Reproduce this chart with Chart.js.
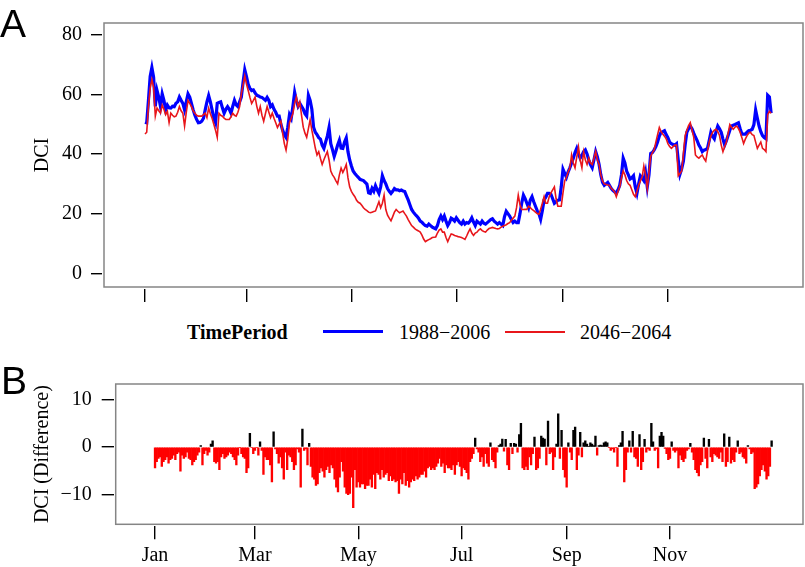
<!DOCTYPE html>
<html><head><meta charset="utf-8">
<script src="https://cdn.jsdelivr.net/npm/chart.js@4.4.1/dist/chart.umd.min.js"></script>
<style>
body{margin:0;background:#fff;width:805px;height:567px;overflow:hidden;position:relative;font-family:"Liberation Serif","Times New Roman",serif;}
canvas{position:absolute;left:0}
.panel{position:absolute;font-family:"Liberation Sans",Arial,sans-serif;font-size:39px;line-height:39px;color:#000}
.lg{position:absolute;top:322px;font-size:20px;line-height:20px;white-space:nowrap;color:#000}
.sw{position:absolute;}
</style></head><body>
<canvas id="ca" width="805" height="320" style="top:0"></canvas>
<canvas id="cb" width="805" height="207" style="top:360px"></canvas>
<div class="panel" style="left:0;top:4px">A</div>
<div class="panel" style="left:1px;top:361px">B</div>
<div class="lg" id="lgTitle" style="left:187px;font-weight:bold"></div>
<div class="sw" style="left:323px;top:330px;width:60px;height:3px;background:#0000ff"></div>
<div class="lg" id="lg1" style="left:399px"></div>
<div class="sw" style="left:505px;top:331px;width:60px;height:2px;background:#e8161b"></div>
<div class="lg" id="lg2" style="left:580px"></div>
<script>
const monthDays = [0, 59, 120, 181, 243, 304];
const monthLabels = ['Jan', 'Mar', 'May', 'Jul', 'Sep', 'Nov'];
const yTicksA = [0, 20, 40, 60, 80];
const yTicksB = [-10, 0, 10];
const legendTitle = 'TimePeriod';
const seriesNames = ['1988\u22122006', '2046\u22122064'];

const dci1988 = [
50.7,50.5,58,66,69,65.8,56,61.3,59,56,
60.2,58,54.8,56.4,55.5,55.4,56,55.9,57,57.5,
59.1,58,57,54.8,57.5,60.2,59.1,57,54.8,53,
51.6,50.5,50.6,51,52,54.8,57.5,59.6,57.5,54.8,
52,50.5,57,57.3,57.5,55.5,53.7,55,55.9,55,
53.7,56,58,56.5,55.9,57.5,59.1,64,68.3,66,
63.4,62,61.3,61.5,60.5,59.7,59.5,59.1,59,58.5,
58,59,58,55.9,56.5,55,54,52.7,52.7,50,
48,46.5,45.6,49,53.2,52,56,60.7,58,56,
57,56,55,53.5,52.7,59.7,58,55,49,47.3,
46.5,45.5,45,43,41.9,44,46,48.9,43.5,41.5,
39.2,41,43,44.6,42,41.9,44,45.4,40.8,38,
36,34.3,33.5,32.8,32.2,31.5,31.3,31.1,30.5,29.9,
27,26.8,28.5,27.5,29.4,28,26.8,29,32.7,31.1,
30,28.4,27.5,26.8,27.5,28.4,28,28,27.7,27.9,
27.6,27.4,26,24.6,23,21.4,20.5,19.8,19.2,18.5,
17.5,17.1,16.5,16,15.8,16.5,16,15.5,15.2,14.9,
16,18,19.2,18,19.2,17.5,16,17,18.5,18.1,
17.5,18.6,17.8,17,16.5,17.5,16.5,17,16.8,17.5,
18.6,17.2,16,17.5,17,16.5,17.5,16.8,16.5,17,
17.5,18,18.3,17.5,17,16.5,17,16.5,16,19,
20.8,20,19.2,18,17,17.5,17,17,20,23.5,
26.2,25,23.5,22,24.6,25.7,24,22.5,21,20,
18.1,21,24.6,25.5,26.8,26.8,26.5,25,23.5,24,
24.5,24.6,29,34.9,33.5,32.2,34,35.4,37,38.6,
40.5,41.9,40,38.6,39.5,40.8,41.4,40,38,36.5,
35.4,38,40.8,39,36.5,33,30.5,29.5,30,30.5,
29.5,28.5,27.8,27.3,26.8,28,29.5,33,38.6,37,
34.3,33,31.6,32,32.7,29,26.8,30,32.7,32,
31.1,33.8,29,33,40.2,40.5,41.4,42.5,44,46,
47.3,47.5,47.8,46.5,45.5,44,43.5,43.2,43,43.5,
38,33.2,35,37.6,43,47.3,48.5,49.4,48.5,47,
45.7,44.5,43,42,40.8,41.3,41.5,41.9,44.5,47.3,
46,45.1,47.5,49.4,48.5,47.3,45,43,44.5,46.2,
48,49.4,49.7,49.9,50.2,50.5,48.5,46.7,46.7,46.7,
47.3,47.8,48,48.3,49.9,54.8,52,49.4,47.5,46.2,
45.5,45.1,59.7,59.1,53.7];

const dci2046 = [
46.7,47.3,55.9,62,65,62.4,52.7,55.4,54.5,53.7,
56.4,55,53.2,54.3,50.5,53.7,53,52.5,52.7,54,
55.9,54.5,53.7,49.4,54,58,57,55.9,54.5,53.7,
53,52.7,52.7,52.7,53.2,53.7,52.2,55.4,53.5,52,
50,48,45.6,53.7,53,52.7,52,51.6,51.6,51.6,
52.5,53.7,53,52.7,54,55.9,60.2,63,66.2,63.5,
61.3,59,57,58,59.1,56,53.7,55.9,53,51,
53.5,55.9,54,52.2,53.7,52,50.5,48.9,50,51,
47,43.5,41.3,45,50.5,52,53.7,57,59.1,55.9,
57.5,53,49,47,45.6,48.5,51.5,48,45.1,42,
39.7,40.8,38.5,36.5,38.1,39.5,40.8,38,34.3,33,
32.2,31,30,33,35.3,33.8,35,36.5,32,28.9,
27.5,26.5,25.7,24.5,23.8,23.5,22.8,22,21.4,21,
20.5,20.3,20.5,20.7,20.9,22.5,24,22,23.5,26.2,
21.4,19.5,18.5,17.6,19,20.5,21.4,20.8,20.3,20.6,
20.9,20,19.2,18,17,16,15.5,14.9,14.5,14.2,
13.8,12.8,11.5,10.6,11,11.3,11.6,12,12.1,12.2,
13.5,14.5,14.9,13.8,13.8,12,10.6,12,13.2,13,
12.7,12.5,12.3,12.2,12,11.7,11.4,12.5,13.8,14.9,
13.5,12.7,13.5,13.8,14.5,14.9,14.3,14,13.8,14.5,
15,15.2,15.4,15.2,15,14.9,15,15.5,15.8,16,
16.3,16.7,17,17.8,18.5,19.2,22,26.2,23,21.4,
21.4,21.5,21.4,22.5,22,21.4,21,20.5,20,19.8,
21.5,23.5,25.7,23.5,23.5,25.7,27,28,29,25,
22.5,22.5,22.5,27,31,32.2,34,35.4,39.7,37,
35.4,39,42.4,38,35.4,40.8,38,36.5,38.6,37,
36.5,38.5,40.8,38,36.5,33,31,30,29.8,29.6,
29.5,28.5,28,27.3,25.7,27.5,29,32,34.3,33,
31.1,30,29.5,28,26.5,25.7,27.5,29.5,31,32.2,
36,33,28.4,34,39.2,40.5,41.4,44,46.5,48.9,
47.5,46.7,46,45.1,43.5,42.5,41.9,42.5,43,43,
32.7,33.5,34.3,40,46.2,48,49.5,50.5,48,45.7,
39.7,39,38.6,39.2,39.7,38.5,37.6,41,44,46,
47.3,48,48.3,47.5,46.2,43,40.8,42.5,44,47,
49.9,49,48.3,49,49.4,48.5,47.3,45.5,43.5,45,
46.2,47,47.3,46.5,46.2,44,41.9,43,44,41.9,
41.5,40.8,53.2,54.3,53.7];

const dciDiff = [
-4.4,-3.1,-2.4,-2.1,-4.1,-3.1,-2.7,-2.1,-3.4,-2.7,-2.4,-1.7,-2.7,-1.4,-1.1,-5.1,-1.7,-2.4,-2.1,-1.1,-2.4,-2.7,-3.8,-3.1,-2.7,-1.7,-1.1,0.3,-3.8,-1.4,-0.7,
-1.7,-1.1,0.6,1.3,-3.1,-3.4,-3.1,-4.8,-2.1,-1.4,-2.4,-2.1,-1.7,-1.1,-1.4,-2.1,-2.7,-3.8,-1.7,-0.1,-1.4,-2.1,-2.4,-5.4,-4.4,2.9,-0.1,-1.4,-0.7,-0.1,-1.7,1.1,-0.7,-5.8,-2.1,-2.7,-2.7,-3.8,-7.4,3.2,-0.4,-1.4,-3.4,-2.1,-4.4,-6.8,-1.1,-4.8,-1.7,-2.1,
-3.1,-4.8,-3.8,-0.4,-1.1,-8.5,3.8,-0.7,-0.4,-3.8,0.8,-4.1,-6.4,-6.8,-8.1,-7.8,-5.4,-4.4,-5.1,-6.4,-4.8,-4.1,-5.4,-3.8,-4.4,-6.8,-8.5,-9.5,-6.4,-3.1,-5.1,-8.5,-9.8,-10.1,-9.8,-6.4,-12.8,-4.8,-8.5,-7.4,-8.5,-7.8,-7.8,-8.8,-8.1,-8.1,-6.8,-8.5,-5.8,-8.8,-5.4,-5.8,-6.8,-4.8,-6.4,-5.8,-5.4,-7.1,-6.1,-7.1,-6.8,-7.4,-7.1,-9.8,-6.8,-7.8,
-5.4,-8.1,-7.1,-8.5,-7.4,-6.8,-7.1,-6.1,-6.8,-6.4,-5.8,-5.8,-5.1,-6.4,-4.4,-4.1,-4.8,-4.4,-4.8,-4.1,-3.4,-2.4,-4.1,-3.4,-5.4,-3.8,-4.4,-4.4,-4.8,-3.8,-5.8,-3.8,-3.1,-4.1,-6.1,-4.4,-4.8,
-5.4,-6.8,-3.1,-2.4,-1.4,1.9,-0.4,-1.1,-3.1,-2.1,-4.1,-1.4,-3.4,-4.1,0.9,-2.7,-3.1,-4.4,-1.1,0.3,0.6,1.7,-0.9,1.6,-3.8,-4.8,0.8,-1.4,0.8,0.6,-1.1,2.6,5.0,-4.4,-4.8,-4.1,-4.8,-2.1,-3.8,-1.4,2.1,-4.8,-4.4,-2.4,2.3,1.9,1.7,-3.8,5.5,-1.4,-1.1,-4.8,-2.1,0.6,7.0,-2.4,3.5,-4.8,-6.4,-8.5,0.9,-1.1,-2.7,3.5,4.2,-4.8,-1.7,3.1,-2.1,
0.9,1.3,0.6,0.1,0.9,0.6,0.3,2.3,-1.7,0.3,0.4,0.3,0.9,1.1,0.9,-0.1,-0.7,-0.4,-1.1,-0.1,-4.1,0.3,0.9,3.3,-7.4,-4.8,-1.1,1.3,-1.1,3.3,-2.1,-2.4,-4.1,2.6,-4.8,-3.1,1.6,-1.1,-0.4,-0.7,5.0,1.1,-0.7,-0.4,-4.4,2.3,3.1,2.3,-0.3,-1.4,-2.7,-2.4,
1.1,-0.7,-1.1,-0.7,-4.4,-1.7,-2.7,-3.1,-2.4,-0.7,-0.4,0.8,-1.1,-2.7,-4.8,-5.4,-6.1,-3.8,-3.1,1.9,-2.4,-4.4,1.6,-2.1,-3.1,-1.4,-1.7,-2.1,-2.4,-1.1,-3.1,2.8,-4.1,-3.1,2.1,-3.4,-2.7,-3.1,-1.1,1.3,-1.4,-1.1,-2.1,-2.4,-3.4,0.3,-0.4,-1.4,-1.1,-8.8,-8.5,-7.8,-6.1,-4.8,-3.8,-5.1,-6.8,-6.1,-4.1,1.3];

document.getElementById('lgTitle').textContent = legendTitle;
document.getElementById('lg1').textContent = seriesNames[0];
document.getElementById('lg2').textContent = seriesNames[1];

const serif = "'Liberation Serif', 'Times New Roman', serif";
const boxPlugin = {
  id: 'box',
  afterDraw(chart) {
    const a = chart.chartArea, c = chart.ctx;
    c.save();
    c.strokeStyle = '#858585';
    c.lineWidth = 1.5;
    c.strokeRect(a.left + 2, a.top + 2, a.right - a.left - 4, a.bottom - a.top - 4);
    c.restore();
  }
};
const toXY = arr => arr.map((v, i) => ({x: i, y: v}));
const commonGrid = (len) => ({drawOnChartArea: false, drawTicks: true, tickLength: len, color: '#000', tickColor: '#000', tickWidth: 1.4, lineWidth: 1.4, offset: false});

new Chart(document.getElementById('ca'), {
  type: 'line',
  data: {
    datasets: [
      {label: seriesNames[1], data: toXY(dci2046), borderColor: '#e8161b', borderWidth: 1.6, pointRadius: 0, tension: 0, order: 0},
      {label: seriesNames[0], data: toXY(dci1988), borderColor: '#0000ff', borderWidth: 3.2, pointRadius: 0, tension: 0, order: 1}
    ]
  },
  options: {
    responsive: false, animation: false, devicePixelRatio: 1, events: [],
    layout: {padding: {left: 0, top: 11, right: 0, bottom: 0}},
    plugins: {legend: {display: false}, tooltip: {enabled: false}},
    scales: {
      x: {
        type: 'linear', min: -25, max: 383.7, offset: false,
        afterBuildTicks: s => { s.ticks = monthDays.map(v => ({value: v})); },
        afterFit: s => { s.height = 31; },
        ticks: {display: false, autoSkip: false},
        grid: commonGrid(13), border: {display: false}
      },
      y: {
        type: 'linear', min: -5.27, max: 84.62,
        afterBuildTicks: s => { s.ticks = yTicksA.map(v => ({value: v})); },
        afterFit: s => { s.width = 102; },
        ticks: {font: {family: serif, size: 20}, color: '#000', padding: 9},
        grid: commonGrid(11), border: {display: false},
        title: {display: true, text: 'DCI', font: {family: serif, size: 20}, color: '#000', padding: {top: 31, bottom: 0}}
      }
    }
  },
  plugins: [boxPlugin]
});

new Chart(document.getElementById('cb'), {
  type: 'bar',
  data: {
    datasets: [{
      label: 'Difference', data: toXY(dciDiff),
      backgroundColor: dciDiff.map(v => v < 0 ? '#ff0000' : '#000000'),
      borderWidth: 0, barPercentage: 1, categoryPercentage: 1
    }]
  },
  options: {
    responsive: false, animation: false, devicePixelRatio: 1, events: [],
    layout: {padding: {left: 0, top: 14.7, right: 0, bottom: 0}},
    plugins: {legend: {display: false}, tooltip: {enabled: false}},
    scales: {
      x: {
        type: 'linear', min: -24.4, max: 383.7, offset: false,
        afterBuildTicks: s => { s.ticks = monthDays.map(v => ({value: v})); },
        afterFit: s => { s.height = 40.7; },
        ticks: {autoSkip: false, maxRotation: 0, font: {family: serif, size: 20}, color: '#000', padding: 4,
                callback: (v, i) => monthLabels[i]},
        grid: commonGrid(13), border: {display: false}
      },
      y: {
        type: 'linear', min: -16.76, max: 13.74,
        afterBuildTicks: s => { s.ticks = yTicksB.map(v => ({value: v})); },
        afterFit: s => { s.width = 113.7; },
        ticks: {font: {family: serif, size: 20}, color: '#000', padding: 10,
                callback: v => v < 0 ? '\u2212' + Math.abs(v) : String(v)},
        grid: commonGrid(12), border: {display: false},
        title: {display: true, text: 'DCI (Difference)', font: {family: serif, size: 20}, color: '#000', padding: {top: 31, bottom: 0}}
      }
    }
  },
  plugins: [boxPlugin]
});
</script>
</body></html>
